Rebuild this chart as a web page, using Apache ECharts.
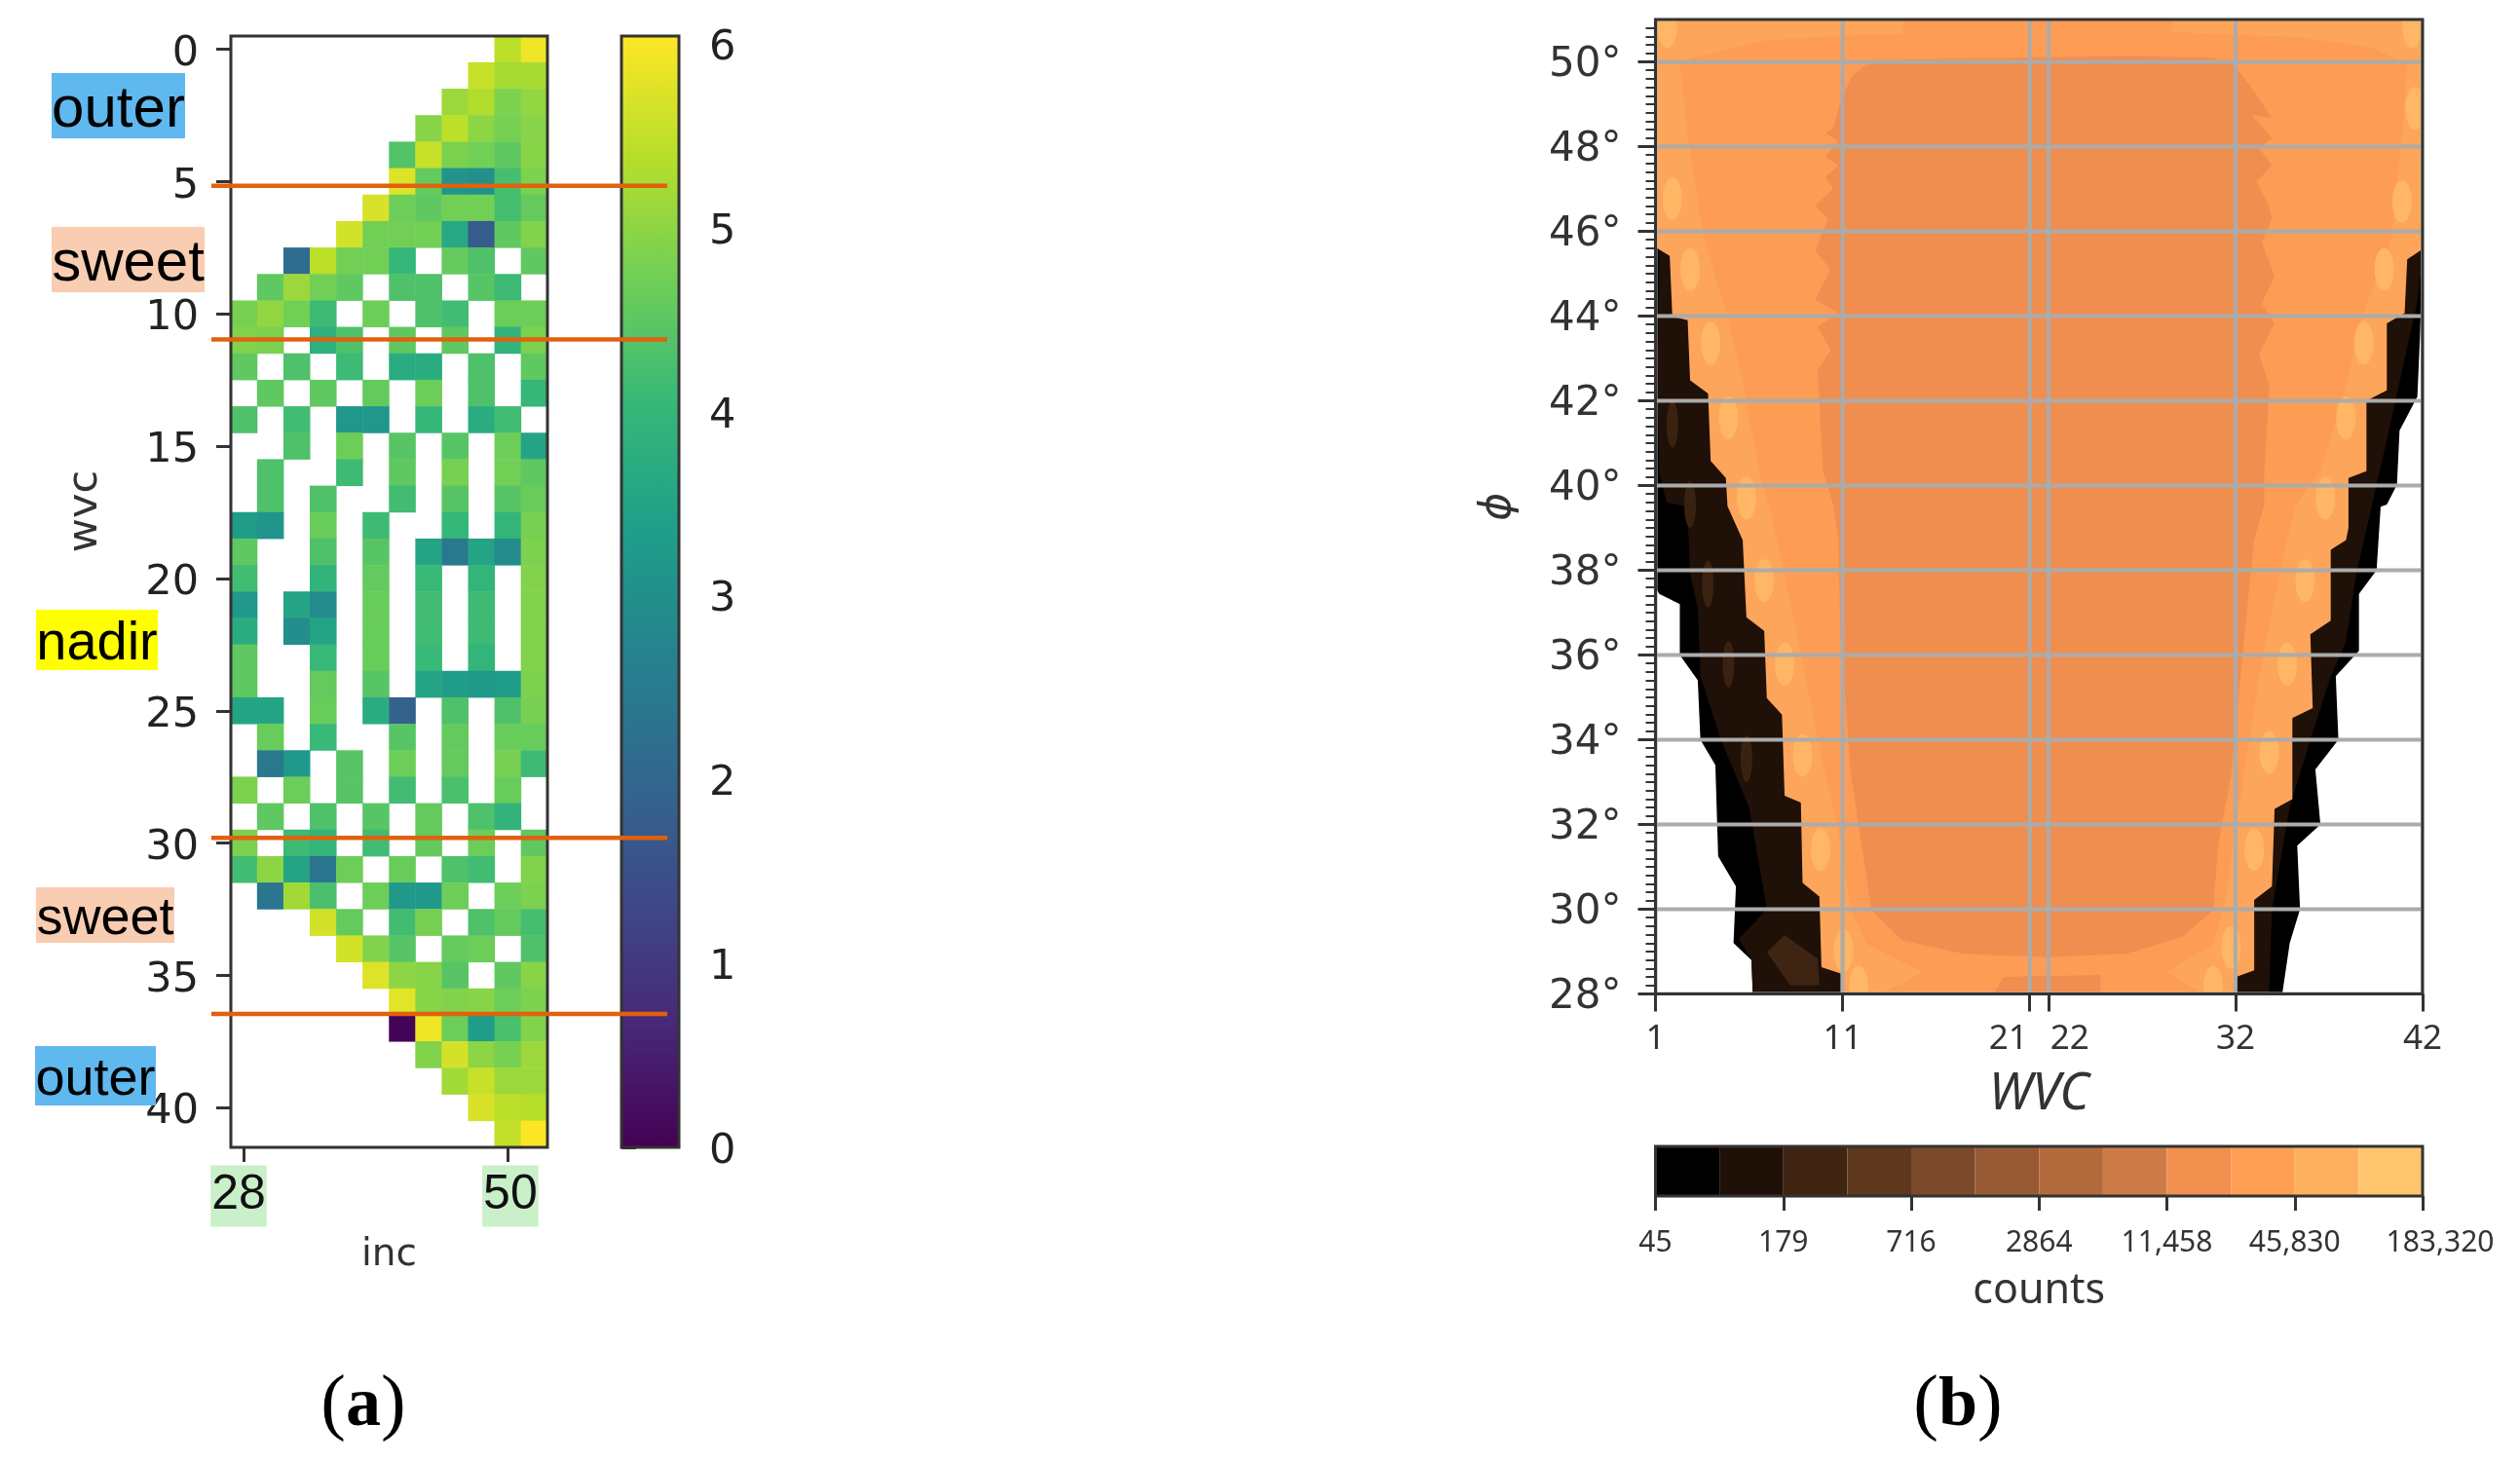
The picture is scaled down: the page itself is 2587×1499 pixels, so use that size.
<!DOCTYPE html>
<html><head><meta charset="utf-8">
<style>html,body{margin:0;padding:0;background:#fff}#c{width:2587px;height:1499px;filter:blur(0.6px)}</style>
<script src="https://cdn.jsdelivr.net/npm/echarts@6/dist/echarts.min.js"></script>
</head><body><div id="c"></div>
<script>
const _ = null;
// ---------- panel (a): values per WVC row (0-41), per inc column
const cellRows = [
[_,_,_,_,_,_,_,_,_,_,5.4,5.85],
[_,_,_,_,_,_,_,_,_,5.5,5.2,5.2],
[_,_,_,_,_,_,_,_,5.1,5.3,4.8,5.0],
[_,_,_,_,_,_,_,4.9,5.4,4.95,4.75,4.9],
[_,_,_,_,_,_,4.35,5.5,4.8,4.7,4.5,4.9],
[_,_,_,_,_,_,5.7,4.55,3.1,3.0,4.2,4.8],
[_,_,_,_,_,5.65,4.65,4.5,4.7,4.7,4.2,4.55],
[_,_,_,_,5.6,4.7,4.7,4.7,3.6,1.75,4.5,4.85],
[_,_,2.1,5.4,4.7,4.7,4.0,_,4.55,4.3,_,4.5],
[_,4.5,5.1,4.7,4.5,_,4.3,4.3,_,4.4,4.1,_],
[4.75,5.0,4.7,4.1,_,4.65,_,4.3,4.15,_,4.65,4.65],
[4.85,4.8,_,3.8,4.3,_,4.5,_,4.5,_,3.9,4.8],
[4.5,_,4.3,_,4.1,_,3.7,3.7,_,4.3,_,4.5],
[_,4.5,_,4.5,_,4.55,_,4.65,_,4.3,_,4.0],
[4.3,_,4.15,_,3.15,3.15,_,4.0,_,3.7,4.15,_],
[_,_,4.3,_,4.65,_,4.4,_,4.4,_,4.65,3.5],
[_,4.3,_,_,4.1,_,4.5,_,4.75,_,4.7,4.5],
[_,4.3,_,4.3,_,_,4.15,_,4.4,_,4.4,4.6],
[3.3,3.1,_,4.6,_,4.1,_,_,4.0,_,3.95,4.75],
[4.5,_,_,4.3,_,4.4,_,3.5,2.4,3.5,2.9,4.8],
[4.15,_,_,3.9,_,4.55,_,4.05,_,3.95,_,4.85],
[3.2,_,3.5,2.9,_,4.6,_,4.15,_,4.1,_,4.85],
[3.7,_,2.95,3.5,_,4.6,_,4.15,_,4.1,_,4.85],
[4.5,_,_,4.05,_,4.6,_,4.05,_,3.95,_,4.85],
[4.5,_,_,4.55,_,4.4,_,3.5,3.3,3.2,3.3,4.8],
[3.5,3.5,_,4.6,_,3.7,1.9,_,4.3,_,4.3,4.75],
[_,4.6,_,4.05,_,_,4.4,_,4.55,_,4.6,4.6],
[_,2.4,3.2,_,4.4,_,4.65,_,4.55,_,4.75,4.1],
[4.8,_,4.65,_,4.4,_,4.15,_,4.25,_,4.6,_],
[_,4.5,_,4.3,_,4.4,_,4.55,_,4.3,3.9,_],
[4.8,_,4.1,3.95,_,4.15,_,4.55,_,4.65,_,4.5],
[4.15,4.95,3.5,2.35,4.65,_,4.6,_,4.3,4.15,_,4.85],
[_,2.35,5.15,4.25,_,4.65,3.2,3.2,4.65,_,4.65,4.8],
[_,_,_,5.6,4.55,_,4.15,4.75,_,4.3,4.55,4.2],
[_,_,_,_,5.6,4.85,4.4,_,4.55,4.65,_,4.3],
[_,_,_,_,_,5.7,4.95,4.9,4.4,_,4.5,4.9],
[_,_,_,_,_,_,5.75,4.9,4.85,4.9,4.65,4.8],
[_,_,_,_,_,_,0.05,5.85,4.65,3.3,4.25,4.85],
[_,_,_,_,_,_,_,4.85,5.6,4.95,4.75,5.1],
[_,_,_,_,_,_,_,_,5.15,5.5,5.1,5.1],
[_,_,_,_,_,_,_,_,_,5.65,5.4,5.35],
[_,_,_,_,_,_,_,_,_,_,5.45,6.0]
];
const incLabels = ['28','','','','','','','','','','50',''];
const wvcRows = cellRows.map((r,i)=>String(i));
const dividerRows = [5.16,10.97,29.8,36.46];
const scaleTicks = [0,1,2,3,4,5,6];
const viridis = ['#440154','#482878','#3e4989','#31688e','#26828e','#1f9e89','#35b779','#6ece58','#b5de2b','#fde725'];

// ---------- panel (b): contour edges as [WVC, phi]
const blackEdge = [[1,51],[1,45.7],[1,37.6],[1.2,37.44],[2.3,37.2],[2.3,36.0],[3.26,35.4],[3.4,34.0],[4.2,33.4],[4.35,31.25],[5.3,30.54],[5.17,29.2],[6.13,28.8],[6.2,28],
  [34.5,28],[34.9,29.2],[35.45,30],[35.3,31.5],[36.54,32],[36.27,33.3],[37.5,34],[37.36,35.5],[38.6,36.1],[38.6,37.44],[39.54,38],[39.76,39.5],[40.09,39.55],[40.63,40.02],[40.77,41.3],[41.72,42.1],[41.86,43.5],[42,45.4],[42,51]];
const brownEdge = [[1,51],[1.2,45.4],[1.1,42.3],[1.2,40.3],[1.6,39.6],[2.7,39.5],[2.85,37.9],[3.26,37.1],[3.4,35.5],[4.5,34],[6,32.4],[6.95,30],[5.45,29.3],[6.13,28.8],[6.2,28],
  [33.8,28],[33.95,30],[34.9,32.4],[36,34],[37.1,35.5],[37.9,36.3],[38.45,37.9],[39.3,39.55],[40.1,41.1],[40.9,42.7],[41.7,44.3],[42,45.4],[42,51]];
const orangeEdge = [[1,51],[1,45.7],[1.1,45.6],[1.76,45.42],[1.9,43.99],[2.72,43.9],[2.85,42.48],[3.81,42.17],[3.95,40.58],[4.76,40.18],[4.85,39.51],[5.66,38.71],[5.86,36.89],[6.81,36.57],[6.95,34.98],[7.76,34.59],[7.9,32.68],[8.77,32.52],[8.86,30.62],[9.76,30.3],[9.87,28.63],[10.9,28.48],[10.9,28],
  [32.04,28],[32.04,28.4],[33,28.56],[33,30.22],[33.95,30.54],[34.09,32.37],[35.04,32.6],[35.04,34.51],[36.13,34.75],[36,36.49],[37.09,36.81],[37.09,38.48],[37.91,38.71],[38.04,39],[38.04,40.18],[39,40.34],[39,42],[40.09,42.25],[40.09,43.83],[41.04,44.07],[41.18,45.34],[42,45.58],[42,51]];
const midEdge = [[14.17,50.65],[14.3,51],[28.63,51],[28.63,50.7],[35.45,50.58],[39.27,50.34],[41.18,49.94],[40.9,48.28],[40.36,45.9],[38.72,43.92],[37.9,42.33],[36.54,40.34],[35.18,39.51],[34.36,37.92],[33.27,35.54],[32.45,33.16],[31.9,31.57],[31.36,29.98],[30.8,29.19],[28.36,28.52],[30.27,28],
  [13.08,28],[15.27,28.52],[12.27,29.19],[11.45,29.98],[10.9,31.57],[10.08,33.16],[8.99,35.54],[7.9,37.92],[7.08,39.51],[6.54,40.34],[5.72,42.33],[4.9,43.92],[3.54,45.9],[2.72,48.28],[2.31,49.94],[3,50.1],[6.81,50.5],[10.9,50.62]];
const innerEdge = [[12.27,49.94],[11.45,49.63],[10.9,49.07],[10.5,48.44],[10.08,48.32],[10.77,48.12],[10.08,47.76],[10.77,47.56],[10.08,47.29],[10.5,47],[9.54,46.6],[10.22,46.3],[9.54,45.54],[10.36,45.1],[9.54,44.39],[10.77,44.07],[9.67,43.75],[10.36,43.2],[9.67,42.72],[9.95,40.34],[10.5,39.55],[10.77,38.71],[10.9,36.33],[11.45,33.16],[12,31.57],[12.54,29.98],[14.17,29.27],[17.45,28.95],[21.8,28.87],[26.18,28.95],[29.18,29.35],[30.8,29.98],[31.09,31.57],[31.77,33.16],[32.45,36.33],[33,38.71],[33.54,39.55],[33.54,40.34],[33.82,42.33],[33.27,43.1],[34.09,43.83],[33.4,44.3],[34.09,44.94],[33.4,45.74],[33.95,46.3],[33.8,46.6],[33.13,47.17],[33.95,47.56],[33.27,47.96],[33.95,48.2],[32.86,48.75],[33.95,48.67],[32.86,49.39],[31.9,49.94],[30.8,50.1],[26.18,50.14],[14.44,50.06]];
const bottomPatch = [[19.1,28],[19.6,28.4],[24.8,28.45],[24.8,28]];
const brownPatch = [[6.95,28.99],[7.9,29.39],[9.67,28.83],[9.76,28.2],[8.2,28.2]];
const contourRings = [blackEdge,brownEdge,brownPatch,orangeEdge,midEdge,innerEdge,bottomPatch];
const contourFills = ['#000000','#1f1008','#3e2412','#fda55b','#fd9c55','#f08e50','#f08e50'];
const lightSpots = [[1.9,46.77],[2.85,45.1],[3.95,43.36],[4.9,41.6],[5.86,39.7],[6.81,37.76],[7.9,35.78],[8.86,33.63],[9.82,31.41],[11.05,29.03],[11.86,28.16],[40.9,46.7],[39.95,45.1],[38.86,43.36],[37.9,41.6],[36.8,39.7],[35.72,37.76],[34.77,35.78],[33.8,33.7],[33,31.41],[31.77,29.1],[30.8,28.16],[1.63,50.82],[41.45,50.82],[41.6,48.9]];
const brownSpots = [[1.9,41.45],[2.85,39.55],[3.8,37.68],[4.9,35.78],[5.86,33.55]];
const phiTicks = [28,30,32,34,36,38,40,42,44,46,48,50];
const wvcTicks = [1,11,21,22,32,42];
const countLabels = ['45','179','716','2864','11,458','45,830','183,320'];
const countBands = ['#000000','#1f1008','#3f2412','#5f371c','#7a4a2b','#985a35','#b36a3c','#cd7c48','#f18f4e','#ff9f55','#ffb05f','#ffc46e'];
// pasted-on annotations of panel (a): text, fill, box, font size
const tags = [
 ['outer','#5fb8ee',53,75,137,67,60],
 ['sweet','#f8cdb2',53,233,157,67,60],
 ['nadir','#ffff00',37,626,125,62,56],
 ['sweet','#f8cdb2',37,911,142,57,54],
 ['outer','#5fb8ee',36,1074,124,61,54]
];

const heatData = [];
cellRows.forEach((row,y)=>row.forEach((v,x)=>{ if(v!==null) heatData.push([x,y,v]); }));

const dark = '#333333';
const font = 'DejaVu Sans';
const noto = 'Noto Sans';
const frameSeries = (i)=>({type:'custom',xAxisIndex:i,yAxisIndex:i,data:[0],z:6,silent:true,
  renderItem:(p,api)=>{const c=p.coordSys;return {type:'rect',shape:{x:c.x,y:c.y,width:c.width,height:c.height},style:{fill:'none',stroke:dark,lineWidth:3}};}});
const incTag = {fontFamily:'Liberation Sans',fontSize:50,color:'#111',lineHeight:48,padding:[6,1,7,1],backgroundColor:'#c9f0c9'};
const wvcText = {fontFamily:noto,fontSize:35,color:dark};
const countText = {fontFamily:noto,fontSize:30,color:dark};

const option = {
 animation:false, backgroundColor:'#fff',
 visualMap:{show:false,min:0,max:6,seriesIndex:0,inRange:{color:viridis}},
 grid:[
  {left:237,top:37,width:325,height:1141},
  {left:638,top:37,width:59,height:1141},
  {left:1699.5,top:20,width:787.5,height:1000.5},
  {left:1699.5,top:1177,width:787.5,height:51}
 ],
 xAxis:[
  {type:'category',gridIndex:0,data:incLabels,splitLine:{show:false},axisLine:{show:false},
   axisTick:{show:true,alignWithLabel:true,length:15,lineStyle:{color:dark,width:3},interval:(i)=>incLabels[i]!==''},
   axisLabel:{interval:0,margin:26,
     formatter:(v)=>v==='28'?'{a|28}{s| }':(v==='50'?'{w| }{a|50}':''),
     rich:{a:incTag,s:{width:11,fontSize:10},w:{width:5,fontSize:10}}},
   name:'inc',nameLocation:'middle',nameGap:91,nameTextStyle:{fontFamily:font,fontSize:39,color:dark}},
  {type:'value',gridIndex:1,min:0,max:1,show:false},
  {type:'value',gridIndex:2,min:1,max:42,splitLine:{show:false},axisLine:{show:false},
   axisTick:{show:true,length:18,lineStyle:{color:dark,width:3},customValues:wvcTicks},
   axisLabel:{customValues:wvcTicks,margin:29,showMinLabel:true,showMaxLabel:true,
     formatter:(v)=>v===21?'{t|21}{g| }':(v===22?'{g| }{t|22}':'{t|'+v+'}'),
     rich:{t:wvcText,g:{width:44,fontSize:10}}},
   name:'WVC',nameLocation:'middle',nameGap:78,nameTextStyle:{fontFamily:noto,fontStyle:'italic',fontSize:52,color:dark}},
  {type:'value',gridIndex:3,min:0,max:12,interval:2,splitLine:{show:false},axisLine:{show:false},
   axisTick:{show:true,length:15,lineStyle:{color:dark,width:3}},
   axisLabel:{margin:33,formatter:(v)=>v===12?'{g| }{t|'+countLabels[6]+'}':'{t|'+countLabels[v/2]+'}',
     rich:{t:countText,g:{width:36,fontSize:10}}},
   name:'counts',nameLocation:'middle',nameGap:76,nameTextStyle:{fontFamily:noto,fontSize:43,color:dark}}
 ],
 yAxis:[
  {type:'category',gridIndex:0,inverse:true,data:wvcRows,splitLine:{show:false},axisLine:{show:false},
   axisTick:{show:true,alignWithLabel:true,length:15,lineStyle:{color:dark,width:3},interval:(i)=>i%5===0},
   axisLabel:{interval:(i)=>i%5===0,margin:33,fontFamily:font,fontSize:43,color:'#222',verticalAlign:'top',lineHeight:10}},
  {type:'value',gridIndex:1,position:'right',min:0,max:6.04,splitLine:{show:false},axisLine:{show:false},
   axisTick:{show:true,length:15,lineStyle:{color:dark,width:3},customValues:scaleTicks},
   axisLabel:{customValues:scaleTicks,margin:31,fontFamily:font,fontSize:43,color:'#222',verticalAlign:'top',lineHeight:10}},
  {type:'value',gridIndex:2,min:28,max:51,interval:2,splitLine:{show:false},axisLine:{show:false},
   axisTick:{show:true,length:18,lineStyle:{color:dark,width:3},customValues:phiTicks},
   minorTick:{show:true,splitNumber:10,length:10,lineStyle:{color:dark,width:2}},
   axisLabel:{customValues:phiTicks,margin:35,fontFamily:font,fontSize:42,color:dark,verticalAlign:'top',lineHeight:8,formatter:(v)=>v+'°'},
   name:'ϕ',nameLocation:'middle',nameGap:139,nameTextStyle:{fontFamily:font,fontStyle:'italic',fontSize:44,color:dark}},
  {type:'value',gridIndex:3,min:0,max:1,show:false}
 ],
 series:[
  {type:'heatmap',xAxisIndex:0,yAxisIndex:0,data:heatData,silent:true,itemStyle:{borderWidth:0}},
  // dividers of panel (a), reaching past both ends of the axes
  {type:'custom',xAxisIndex:0,yAxisIndex:0,data:dividerRows.map((v,i)=>[0,i]),z:7,silent:true,clip:false,
   renderItem:(p,api)=>{
     const v=dividerRows[p.dataIndex],r=Math.floor(v),h=api.size([0,1])[1];
     const y=api.coord([0,r])[1]+(v-r)*h;const c=p.coordSys;
     return {type:'line',shape:{x1:c.x-20,y1:y,x2:c.x+448,y2:y},style:{stroke:'#e0610e',lineWidth:4.5}};
   }},
  frameSeries(0),
  // viridis scale
  {type:'custom',xAxisIndex:1,yAxisIndex:1,data:[0],silent:true,
   renderItem:(p,api)=>{
     const a=api.coord([0,0]),b=api.coord([1,6.04]);
     return {type:'rect',shape:{x:a[0],y:b[1],width:b[0]-a[0],height:a[1]-b[1]},
       style:{fill:new echarts.graphic.LinearGradient(0,1,0,0,viridis.map((c,i)=>({offset:i/(viridis.length-1),color:c})))}};
   }},
  frameSeries(1),
  // contour bands
  {type:'custom',xAxisIndex:2,yAxisIndex:2,data:contourRings.map((r,i)=>[1,28,i]),clip:true,silent:true,
   renderItem:(p,api)=>({type:'polygon',shape:{points:contourRings[p.dataIndex].map(q=>api.coord(q))},style:{fill:contourFills[p.dataIndex]}})},
  {type:'custom',xAxisIndex:2,yAxisIndex:2,data:lightSpots,clip:true,silent:true,
   renderItem:(p,api)=>{const c=api.coord([api.value(0),api.value(1)]);
     return {type:'ellipse',shape:{cx:c[0],cy:c[1],rx:10,ry:22},style:{fill:'#ffb665'}};}},
  {type:'custom',xAxisIndex:2,yAxisIndex:2,data:brownSpots,clip:true,silent:true,
   renderItem:(p,api)=>{const c=api.coord([api.value(0),api.value(1)]);
     return {type:'ellipse',shape:{cx:c[0],cy:c[1],rx:6,ry:24},style:{fill:'#3a2210'}};}},
  // grid lines lie over the bands
  {type:'custom',xAxisIndex:2,yAxisIndex:2,data:phiTicks.map(v=>[1,v]),clip:true,silent:true,
   renderItem:(p,api)=>{const a=api.coord([1,api.value(1)]),b=api.coord([42,api.value(1)]);
     return {type:'line',shape:{x1:a[0],y1:a[1],x2:b[0],y2:b[1]},style:{stroke:'#ababab',lineWidth:4}};}},
  {type:'custom',xAxisIndex:2,yAxisIndex:2,data:wvcTicks.map(v=>[v,28]),clip:true,silent:true,
   renderItem:(p,api)=>{const a=api.coord([api.value(0),28]),b=api.coord([api.value(0),51]);
     return {type:'line',shape:{x1:a[0],y1:a[1],x2:b[0],y2:b[1]},style:{stroke:'#ababab',lineWidth:4}};}},
  frameSeries(2),
  // count scale
  {type:'custom',xAxisIndex:3,yAxisIndex:3,data:countBands.map((c,i)=>[i,0]),silent:true,
   renderItem:(p,api)=>{const i=api.value(0),a=api.coord([i,0]),b=api.coord([i+1,1]);
     return {type:'rect',shape:{x:a[0],y:b[1],width:b[0]-a[0],height:a[1]-b[1]},style:{fill:countBands[i]}};}},
  frameSeries(3)
 ],
 graphic:{elements:[].concat(
  [{type:'text',x:88,y:525,rotation:Math.PI/2,z:9,style:{text:'wvc',fill:dark,font:'43px "DejaVu Sans"',textAlign:'center',textVerticalAlign:'middle'}}],
  tags.flatMap(t=>[
   {type:'rect',shape:{x:t[2],y:t[3],width:t[4],height:t[5]},style:{fill:t[1]},z:8},
   {type:'text',x:t[2]+t[4]/2,y:t[3]+t[5]/2+5,z:9,style:{text:t[0],fill:'#000',font:t[6]+'px "Liberation Sans"',textAlign:'center',textVerticalAlign:'middle'}}
  ]),
  [
   {type:'text',x:373,y:1444,z:9,style:{text:'{p|(}{b|a}{p|)}',textAlign:'center',textVerticalAlign:'middle',
     rich:{p:{font:'77px "Liberation Serif"',fill:'#000'},b:{font:'bold 72px "Liberation Serif"',fill:'#000'}}}},
   {type:'text',x:2010,y:1444,z:9,style:{text:'{p|(}{b|b}{p|)}',textAlign:'center',textVerticalAlign:'middle',
     rich:{p:{font:'77px "Liberation Serif"',fill:'#000'},b:{font:'bold 72px "Liberation Serif"',fill:'#000'}}}}
  ])}
};
const chart = echarts.init(document.getElementById('c'),null,{renderer:'canvas',width:2587,height:1499});
chart.setOption(option);
</script></body></html>
